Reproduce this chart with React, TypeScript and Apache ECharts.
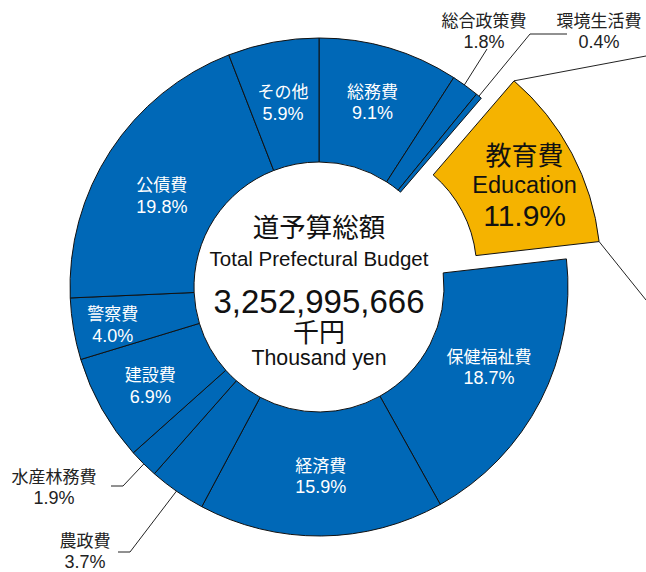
import React, { useEffect, useRef } from "react";
import * as echarts from "echarts";

// ---- data ----
const categories = ["総務費", "総合政策費", "環境生活費", "教育費", "保健福祉費", "経済費", "農政費", "水産林務費", "建設費", "警察費", "公債費", "その他"];
const shares = [9.1, 1.8, 0.4, 11.9, 18.7, 15.9, 3.7, 1.9, 6.9, 4.0, 19.8, 5.9];
const highlighted = "教育費";
const highlightedEnglish = "Education";
const centerTitle = "道予算総額";
const centerTitleEn = "Total Prefectural Budget";
const totalAmount = "3,252,995,666";
const unitJa = "千円";
const unitEn = "Thousand yen";

// ---- style / layout ----
const BLUE = "#0068B7";
const GOLD = "#F5B300";
const CX = 319;
const CY = 287;
const R0 = 125;
const R1 = 249;
const OFFSET = 37;
const FONT = "'Liberation Sans', 'Noto Sans CJK JP', sans-serif";

const outsideLabels: Record<string, { x: number; y: number; r: number; elbow: number[]; end: number[] }> = {
  "総合政策費": { x: 484, y: 31, r: 231, elbow: [487, 49], end: [487, 49] },
  "環境生活費": { x: 599, y: 31, r: 248, elbow: [530, 34], end: [567, 34] },
  "水産林務費": { x: 54, y: 487, r: 230, elbow: [123, 486], end: [111, 486] },
  "農政費": { x: 85, y: 551, r: 231, elbow: [130, 552], end: [118, 552] },
};
const insideShift: Record<string, number[]> = {
  "その他": [-1, 3],
  "総務費": [0, -2],
  "公債費": [2, 13],
  "警察費": [-19, 6],
  "建設費": [-3, 6],
  "保健福祉費": [1, -6],
  "教育費": [5, 6],
};

const total = shares.reduce((a, b) => a + b, 0);
function angleAt(idx: number, frac: number) {
  let s = 0;
  for (let i = 0; i < idx; i++) s += shares[i];
  s += shares[idx] * frac;
  return (s / total) * Math.PI * 2;
}
function polar(r: number, a: number) {
  return [CX + r * Math.sin(a), CY - r * Math.cos(a)];
}

export default function App() {
  const ref = useRef<HTMLDivElement>(null);
  useEffect(() => {
    if (!ref.current) return;
    const chart = echarts.init(ref.current, undefined, { renderer: "svg" });

    const data = categories.map((name, i) => {
      const isHi = name === highlighted;
      const outside = outsideLabels[name];
      const item: any = {
        name,
        value: shares[i],
        itemStyle: { color: isHi ? GOLD : BLUE },
      };
      if (isHi) {
        item.selected = true;
        item.select = { itemStyle: { color: GOLD, borderColor: "#111", borderWidth: 1 } };
        item.label = {
          position: "inside",
          formatter: `{a|${name}}\n{b|${highlightedEnglish}}\n{c|${shares[i].toFixed(1)}%}`,
          rich: {
            a: { fontSize: 26, color: "#111", fontFamily: FONT, lineHeight: 29 },
            b: { fontSize: 23.5, color: "#111", fontFamily: FONT, lineHeight: 29 },
            c: { fontSize: 30, color: "#111", fontFamily: FONT, lineHeight: 33 },
          },
        };
      } else if (outside) {
        item.label = {
          position: "outside",
          color: "#222",
          rich: {
            n: { fontSize: 17, color: "#222", fontFamily: FONT, lineHeight: 21 },
            p: { fontSize: 18, color: "#222", fontFamily: FONT, lineHeight: 20 },
          },
        };
        item.labelLine = { show: true, length: 10, length2: 10, lineStyle: { color: "#222", width: 1 } };
      }
      return item;
    });

    const edu = categories.indexOf(highlighted);
    const a0 = angleAt(edu, 0);
    const a1 = angleAt(edu, 1);
    const am = angleAt(edu, 0.5);
    const off = [OFFSET * Math.sin(am), -OFFSET * Math.cos(am)];
    const c0 = polar(R1, a0);
    const c1 = polar(R1, a1);
    const p0 = [c0[0] + off[0], c0[1] + off[1]];
    const p1 = [c1[0] + off[0], c1[1] + off[1]];

    const textStyle = (text: string, y: number, size: number, extra: any = {}) => ({
      type: "text",
      x: CX,
      y,
      style: {
        text,
        fontSize: size,
        fontFamily: FONT,
        fill: "#111",
        textAlign: "center",
        textVerticalAlign: "middle",
        ...extra,
      },
      silent: true,
    });

    chart.setOption({
      animation: false,
      series: [
        {
          type: "pie",
          center: [CX, CY],
          radius: [R0, R1],
          startAngle: 90,
          clockwise: true,
          selectedMode: "single",
          selectedOffset: OFFSET,
          avoidLabelOverlap: false,
          itemStyle: { borderColor: "#111", borderWidth: 1 },
          emphasis: { disabled: true },
          label: {
            show: true,
            position: "inside",
            formatter: (p: any) => `{n|${p.name}}\n{p|${Number(p.value).toFixed(1)}%}`,
            rich: {
              n: { fontSize: 17, color: "#fff", fontFamily: FONT, lineHeight: 21 },
              p: { fontSize: 18, color: "#fff", fontFamily: FONT, lineHeight: 21 },
            },
          },
          labelLine: { show: false },
          labelLayout: (params: any) => {
            const name = categories[params.dataIndex];
            const o = outsideLabels[name];
            if (o) {
              const inner = polar(o.r, angleAt(params.dataIndex, 0.5));
              return {
                x: o.x,
                y: o.y,
                align: "center",
                verticalAlign: "middle",
                labelLinePoints: [inner, o.elbow, o.end],
              };
            }
            const s = insideShift[name];
            if (s) {
              return { dx: s[0], dy: s[1] };
            }
            return {};
          },
          data,
        },
      ],
      graphic: [
        { type: "line", shape: { x1: p0[0], y1: p0[1], x2: 646, y2: 56 }, style: { stroke: "#222", lineWidth: 1 }, silent: true },
        { type: "line", shape: { x1: p1[0], y1: p1[1], x2: 646, y2: 300 }, style: { stroke: "#222", lineWidth: 1 }, silent: true },
        textStyle(centerTitle, 228, 26.5),
        textStyle(centerTitleEn, 258, 20.5),
        textStyle(totalAmount, 301, 33),
        textStyle(unitJa, 333, 26),
        textStyle(unitEn, 358, 21.3),
      ],
    });
    return () => chart.dispose();
  }, []);
  return <div ref={ref} style={{ position: "absolute", left: 0, top: 0, width: 646, height: 572 }} />;
}
